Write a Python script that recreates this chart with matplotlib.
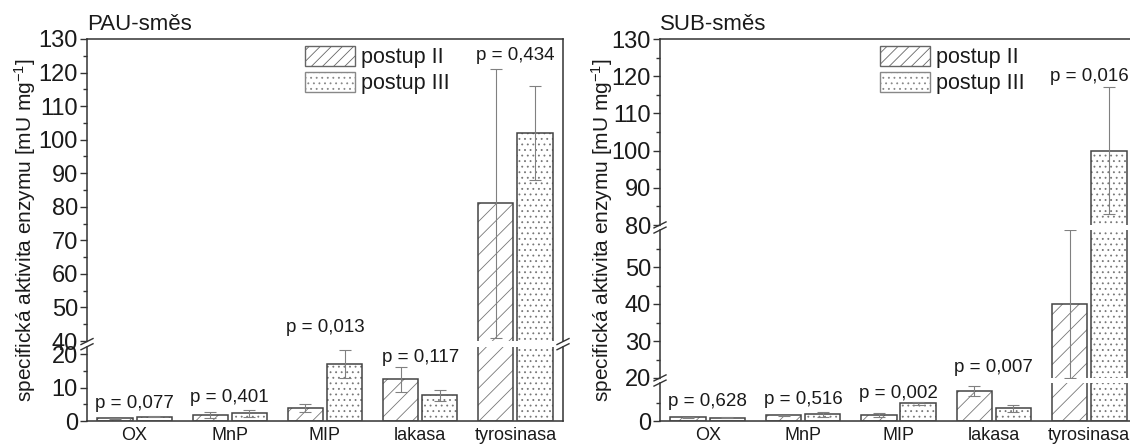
import matplotlib
matplotlib.use('Agg')
import matplotlib.pyplot as plt
from matplotlib.ticker import FixedLocator
from matplotlib.lines import Line2D
from matplotlib.patches import Patch
import numpy as np

# ---------------- data ----------------
categories = ['OX', 'MnP', 'MIP', 'lakasa', 'tyrosinasa']
series_labels = ['postup II', 'postup III']

pau_II = [0.8, 1.8, 4.0, 12.4, 81.0]
pau_II_err = [0.2, 0.8, 1.2, 3.7, 40.0]
pau_III = [1.3, 2.3, 16.9, 7.7, 102.0]
pau_III_err = [0.15, 1.0, 4.2, 1.7, 14.0]
pau_p = ['p = 0,077', 'p = 0,401', 'p = 0,013', 'p = 0,117', 'p = 0,434']

sub_II = [1.0, 1.6, 1.6, 8.2, 40.0]
sub_II_err = [0.1, 0.15, 0.6, 1.4, 20.0]
sub_III = [0.9, 1.8, 4.8, 3.5, 100.0]
sub_III_err = [0.15, 0.6, 0.4, 1.0, 17.0]
sub_p = ['p = 0,628', 'p = 0,516', 'p = 0,002', 'p = 0,007', 'p = 0,016']

titles = ['PAU-směs', 'SUB-směs']
ylabel = 'specifická aktivita enzymu [mU mg$^{-1}$]'

# ---------------- style ----------------
plt.rcParams['font.family'] = ['Liberation Sans', 'DejaVu Sans']
plt.rcParams['mathtext.fontset'] = 'custom'
plt.rcParams['mathtext.rm'] = 'Liberation Sans'
plt.rcParams['mathtext.default'] = 'regular'
plt.rcParams['hatch.linewidth'] = 0.6

TXT = '#1a1a1a'
SPINE = '#333333'
EDGE = '#444444'
HATCHC = '#777777'
ERRC = '#808080'

W, H = 1130, 444
fig = plt.figure(figsize=(W / 100, H / 100), dpi=100)


def fr(x0, x1, ytop, ybot):
    return [x0 / W, 1 - ybot / H, (x1 - x0) / W, (ybot - ytop) / H]


def px2fig(x, y):
    return x / W, 1 - y / H


def break_mark(xc, yc):
    for dy in (-2.6, 2.6):
        xa, ya = px2fig(xc - 6, yc + dy + 3)
        xb, yb = px2fig(xc + 6, yc + dy - 3)
        fig.add_artist(Line2D([xa, xb], [ya, yb], transform=fig.transFigure,
                              color=SPINE, lw=1.0, clip_on=False))


width = 0.37
off = 0.205


def draw_panel(x0, x1, segs, v2, e2, v3, e3, plabels, poffs_px, title, ylab_x,
               right_spine, legend_xy):
    x = np.arange(len(categories))
    axes = []
    n = len(segs)
    for i, (ylim, ytop, ybot, majors, minors) in enumerate(segs):
        ax = fig.add_axes(fr(x0, x1, ytop, ybot))
        ax.set_xlim(-0.5, len(categories) - 0.5)
        ax.set_ylim(*ylim)
        for xs, vals, errs, hatch in ((x - off, v2, e2, '//'), (x + off, v3, e3, '...')):
            ax.bar(xs, vals, width, color='white', edgecolor=HATCHC, hatch=hatch,
                   linewidth=0, zorder=2)
            ax.bar(xs, vals, width, fill=False, edgecolor=EDGE, linewidth=1.1, zorder=3)
            ax.errorbar(xs, vals, yerr=errs, fmt='none', ecolor=ERRC, elinewidth=0.8,
                        capsize=4, capthick=0.8, zorder=4)
        for s in ax.spines.values():
            s.set_color(SPINE)
            s.set_linewidth(1.1)
        ax.spines['top'].set_visible(i == n - 1)
        ax.spines['bottom'].set_visible(i == 0)
        ax.spines['right'].set_visible(right_spine)
        ax.yaxis.set_major_locator(FixedLocator(majors))
        ax.yaxis.set_minor_locator(FixedLocator(minors))
        ax.tick_params(axis='y', which='major', direction='out', length=5, width=1,
                       pad=1.5, labelsize=17, colors=SPINE, labelcolor=TXT)
        ax.tick_params(axis='y', which='minor', direction='out', length=3, width=1,
                       colors=SPINE)
        ax.set_xticks(x)
        if i == 0:
            ax.set_xticklabels(categories)
            ax.tick_params(axis='x', length=0, pad=4, labelsize=13, labelcolor=TXT)
        else:
            ax.tick_params(axis='x', length=0, labelbottom=False)
        ax.patch.set_alpha(0)
        axes.append(ax)

    # break marks between segments
    for i in range(n - 1):
        yc = (segs[i][1] + segs[i + 1][2]) / 2
        break_mark(x0, yc)
        if right_spine:
            break_mark(x1, yc)

    # p-value labels
    for k in range(len(categories)):
        top = max(v2[k] + e2[k], v3[k] + e3[k])
        tgt = axes[0]
        for ax, s in zip(axes, segs):
            if s[0][0] <= top:
                tgt = ax
        top_c = min(top, tgt.get_ylim()[1])
        tgt.annotate(plabels[k], (x[k], top_c), xytext=(0, poffs_px[k] * 0.72),
                     textcoords='offset points', ha='center', va='center',
                     fontsize=13.5, color=TXT, annotation_clip=False)

    # title and y label
    tx, ty = px2fig(x0, 25)
    fig.text(tx, ty, title, ha='left', va='center', fontsize=16, color=TXT)
    lx, ly = px2fig(ylab_x, (segs[-1][1] + segs[0][2]) / 2)
    fig.text(lx, ly, ylabel, rotation=90, ha='center', va='center', fontsize=15,
             color=TXT)

    handles = [Patch(facecolor='white', edgecolor='#666666', hatch='///', linewidth=1.0),
               Patch(facecolor='white', edgecolor='#888888', hatch='...', linewidth=1.0)]
    bx, by = px2fig(*legend_xy)
    fig.legend(handles, series_labels, loc='upper left', bbox_to_anchor=(bx, by),
               frameon=False, borderpad=0, borderaxespad=0, handlelength=2.3,
               handleheight=1.05, labelspacing=0.15, handletextpad=0.3, fontsize=15.5,
               labelcolor=TXT)
    return axes


left_segs = [((0, 22), 347.3, 421, [0, 10, 20], [5, 15]),
             ((40, 130), 39, 341, list(range(40, 131, 10)), list(range(45, 130, 10)))]
draw_panel(87, 563, left_segs, pau_II, pau_II_err, pau_III, pau_III_err, pau_p,
           [13, 12, 23, 10, 14], titles[0], 25, True, (305, 46))

right_segs = [((0, 10.4), 383, 421, [0], [5]),
              ((20, 60), 230, 378, [20, 30, 40, 50], [25, 35, 45, 55]),
              ((80, 130), 39, 225, list(range(80, 131, 10)), list(range(85, 130, 10)))]
draw_panel(660, 1137, right_segs, sub_II, sub_II_err, sub_III, sub_III_err, sub_p,
           [15, 13, 9, 18, 11], titles[1], 602, False, (880, 46))

fig.savefig('out.png', dpi=100)
